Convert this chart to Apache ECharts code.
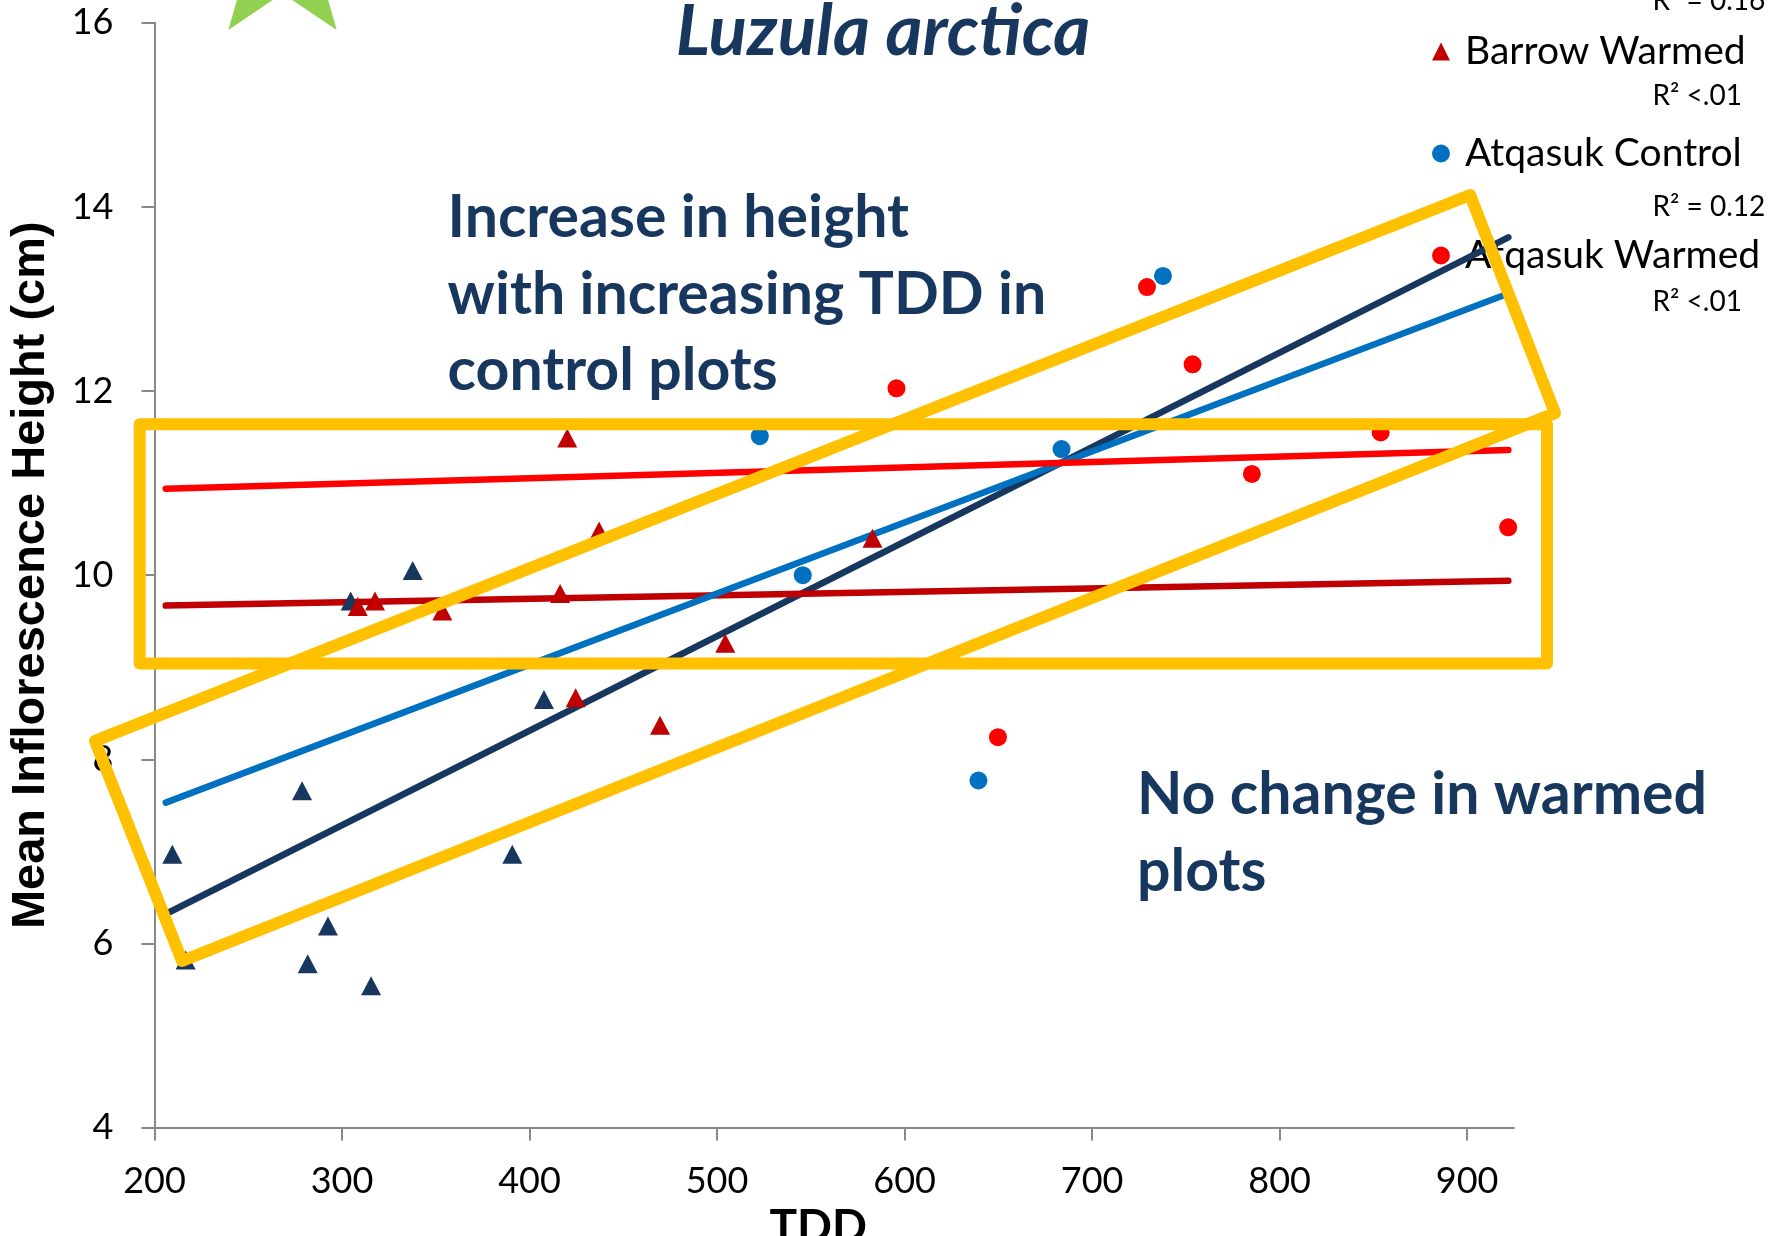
<!DOCTYPE html>
<html>
<head>
<meta charset="utf-8">
<script src="https://cdn.jsdelivr.net/npm/echarts@6/dist/echarts.min.js"></script>
<style>
html,body{margin:0;padding:0;background:#ffffff;}
#chart{width:1786px;height:1236px;}
</style>
</head>
<body>
<div id="chart"></div>
<script>
// ---------------- data ----------------
const xTicks = [200, 300, 400, 500, 600, 700, 800, 900];
const yTicks = [4, 6, 8, 10, 12, 14, 16];

const seriesNames = ['Barrow Control', 'Barrow Warmed', 'Atqasuk Control', 'Atqasuk Warmed'];

const barrowControlTDD    = [209.5, 216.6, 278.7, 281.7, 292.5, 304.6, 315.5, 337.7, 390.8, 407.7];
const barrowControlHeight = [6.97, 5.82, 7.66, 5.78, 6.19, 9.72, 5.54, 10.05, 6.97, 8.65];

const barrowWarmedTDD    = [308.4, 317.6, 353.5, 416.3, 420.1, 424.6, 437.1, 469.6, 504.4, 582.9];
const barrowWarmedHeight = [9.66, 9.72, 9.61, 9.80, 11.49, 8.67, 10.48, 8.37, 9.26, 10.40];

const atqasukControlTDD    = [522.8, 545.7, 639.4, 683.7, 737.8];
const atqasukControlHeight = [11.51, 10.00, 7.77, 11.37, 13.25];

const atqasukWarmedTDD    = [595.7, 649.8, 729.3, 753.6, 785.2, 853.9, 921.9];
const atqasukWarmedHeight = [12.03, 8.24, 13.13, 12.29, 11.10, 11.55, 10.52];

// fitted trend line end points (TDD, height)
const trendTDD            = [206, 922];
const barrowControlTrend  = [6.32, 13.67];
const barrowWarmedTrend   = [9.67, 9.94];
const atqasukControlTrend = [7.53, 13.06];
const atqasukWarmedTrend  = [10.94, 11.36];

const rSquaredLabels = ['R\u00B2 = 0.16', 'R\u00B2 <.01', 'R\u00B2 = 0.12', 'R\u00B2 <.01'];

// highlight boxes (corners in data units)
const flatBoxTDD    = [192.1, 942.6, 942.6, 192.1];
const flatBoxHeight = [11.64, 11.64, 9.04, 9.04];
const tiltBoxTDD    = [168.3, 901.6, 946.9, 214.7];
const tiltBoxHeight = [8.20, 14.13, 11.76, 5.81];

const titleText = 'Luzula arctica';
const noteControl = ['Increase in height', 'with increasing TDD in', 'control plots'];
const noteWarmed = ['No change in warmed', 'plots'];

// ---------------- styling ----------------
const FONT = 'Lato';
const NAVY = '#17375E';
const BLUE = '#0070C0';
const RED = '#FF0000';
const DARKRED = '#C00000';
const YELLOW = '#FFC000';
const AXIS = '#898989';

function pairs(xs, ys) { return xs.map((x, i) => [x, ys[i]]); }

// text placed by baseline (Lato middle is ~0.387em above baseline)
function textAtBaseline(str, x, baseline, size, opts) {
  opts = opts || {};
  const mid = opts.midRatio != null ? opts.midRatio : 0.387;
  return {
    type: 'text', z: 10, silent: true,
    style: {
      text: str, x: x, y: baseline - mid * size,
      fill: opts.color || '#000',
      font: (opts.style || 'normal') + ' ' + (opts.weight || 'normal') + ' ' + size + 'px ' + (opts.family || FONT),
      align: opts.align || 'left', verticalAlign: 'middle'
    }
  };
}

// decorative star (top-left)
function starPoints(cx, cy, R, r) {
  const pts = [];
  for (let i = 0; i < 10; i++) {
    const ang = -Math.PI / 2 + i * Math.PI / 5;
    const rad = i % 2 === 0 ? R : r;
    pts.push([cx + rad * Math.cos(ang), cy + rad * Math.sin(ang)]);
  }
  return pts;
}

const graphics = [];
graphics.push({ type: 'polygon', z: 1, silent: true, shape: { points: starPoints(282.5, -44.6, 92.2, 38) }, style: { fill: '#92D050' } });

noteControl.forEach((t, i) => graphics.push(textAtBaseline(t, 447.6, 241 + i * 76.5, 59, { weight: 'bold', color: NAVY })));
noteWarmed.forEach((t, i) => graphics.push(textAtBaseline(t, 1137, 818 + i * 77, 59, { weight: 'bold', color: NAVY })));

const rBaselines = [11.5, 106.7, 218.3, 313.3];
rSquaredLabels.forEach((t, i) => graphics.push(textAtBaseline(t, 1652.5, rBaselines[i], 28, {})));

const trendStyle = (c) => ({ color: c, width: 6.5, cap: 'round' });
const dotStyle = (c) => ({ color: c, opacity: 1 });

const option = {
  animation: false,
  backgroundColor: '#ffffff',
  title: {
    text: titleText, left: 883, top: -3, textAlign: 'center', padding: 0,
    textStyle: { fontFamily: FONT, fontWeight: 'bold', fontStyle: 'italic', fontSize: 71, color: NAVY }
  },
  legend: {
    data: ['Barrow Warmed', 'Atqasuk Control', 'Atqasuk Warmed'],
    orient: 'vertical', left: 1432, top: 32, padding: 0,
    itemWidth: 18, itemHeight: 18, itemGap: 63,
    selectedMode: false, z: 1,
    itemStyle: { opacity: 1 },
    textStyle: { fontFamily: FONT, fontSize: 39, color: '#000', padding: [0, 0, 0, 10] }
  },
  grid: { left: 154.5, right: 272, top: 22.8, bottom: 108.4, containLabel: false, outerBoundsMode: 'none' },
  xAxis: {
    type: 'value', min: 200, max: 925, interval: 100,
    name: 'TDD', nameLocation: 'middle', nameGap: 50,
    nameTextStyle: { fontFamily: FONT, fontWeight: 'bold', fontSize: 46, color: '#000', padding: [0, 32, 0, 0] },
    axisLine: { show: true, lineStyle: { color: AXIS, width: 2 } },
    axisTick: { show: true, length: 13, customValues: xTicks, lineStyle: { color: AXIS, width: 2 } },
    axisLabel: { customValues: xTicks, margin: 36, fontFamily: FONT, fontSize: 36, color: '#000' },
    splitLine: { show: false }
  },
  yAxis: {
    type: 'value', min: yTicks[0], max: yTicks[yTicks.length - 1], interval: 2,
    name: 'Mean Inflorescence Height (cm)', nameLocation: 'middle', nameGap: 100, nameRotate: 90,
    nameTextStyle: { fontFamily: 'Liberation Sans', fontWeight: 'bold', fontSize: 47, color: '#000' },
    axisLine: { show: true, lineStyle: { color: AXIS, width: 2 } },
    axisTick: { show: true, length: 13, lineStyle: { color: AXIS, width: 2 } },
    axisLabel: { margin: 41, fontFamily: FONT, fontSize: 36, color: '#000' },
    splitLine: { show: false }
  },
  series: [
    { type: 'line', name: 'trend ' + seriesNames[0], data: pairs(trendTDD, barrowControlTrend), symbol: 'none', lineStyle: trendStyle(NAVY), z: 2, silent: true },
    { type: 'line', name: 'trend ' + seriesNames[1], data: pairs(trendTDD, barrowWarmedTrend), symbol: 'none', lineStyle: trendStyle(DARKRED), z: 2, silent: true },
    { type: 'line', name: 'trend ' + seriesNames[2], data: pairs(trendTDD, atqasukControlTrend), symbol: 'none', lineStyle: trendStyle(BLUE), z: 2, silent: true },
    { type: 'line', name: 'trend ' + seriesNames[3], data: pairs(trendTDD, atqasukWarmedTrend), symbol: 'none', lineStyle: trendStyle(RED), z: 2, silent: true },

    { type: 'scatter', name: seriesNames[0], data: pairs(barrowControlTDD, barrowControlHeight), symbol: 'triangle', symbolSize: [20, 19], itemStyle: dotStyle(NAVY), z: 3 },
    { type: 'scatter', name: seriesNames[1], data: pairs(barrowWarmedTDD, barrowWarmedHeight), symbol: 'triangle', symbolSize: [20, 19], itemStyle: dotStyle(DARKRED), z: 3 },
    { type: 'scatter', name: seriesNames[2], data: pairs(atqasukControlTDD, atqasukControlHeight), symbol: 'circle', symbolSize: 18, itemStyle: dotStyle(BLUE), z: 3 },
    { type: 'scatter', name: seriesNames[3], data: pairs(atqasukWarmedTDD, atqasukWarmedHeight), symbol: 'circle', symbolSize: 18, itemStyle: dotStyle(RED), z: 3 }
  ]
};

const chart = echarts.init(document.getElementById('chart'), null, { renderer: 'canvas' });
chart.setOption(option);

// highlight boxes: corners converted through the chart's own axes
function boxGraphic(xs, ys) {
  const pts = xs.map((x, i) => chart.convertToPixel({ gridIndex: 0 }, [x, ys[i]]));
  return {
    type: 'polygon', z: 5, silent: true,
    shape: { points: pts },
    style: { fill: 'none', stroke: YELLOW, lineWidth: 12, lineJoin: 'round' }
  };
}
graphics.push(boxGraphic(flatBoxTDD, flatBoxHeight));
graphics.push(boxGraphic(tiltBoxTDD, tiltBoxHeight));
chart.setOption({ graphic: graphics });
</script>
</body>
</html>
